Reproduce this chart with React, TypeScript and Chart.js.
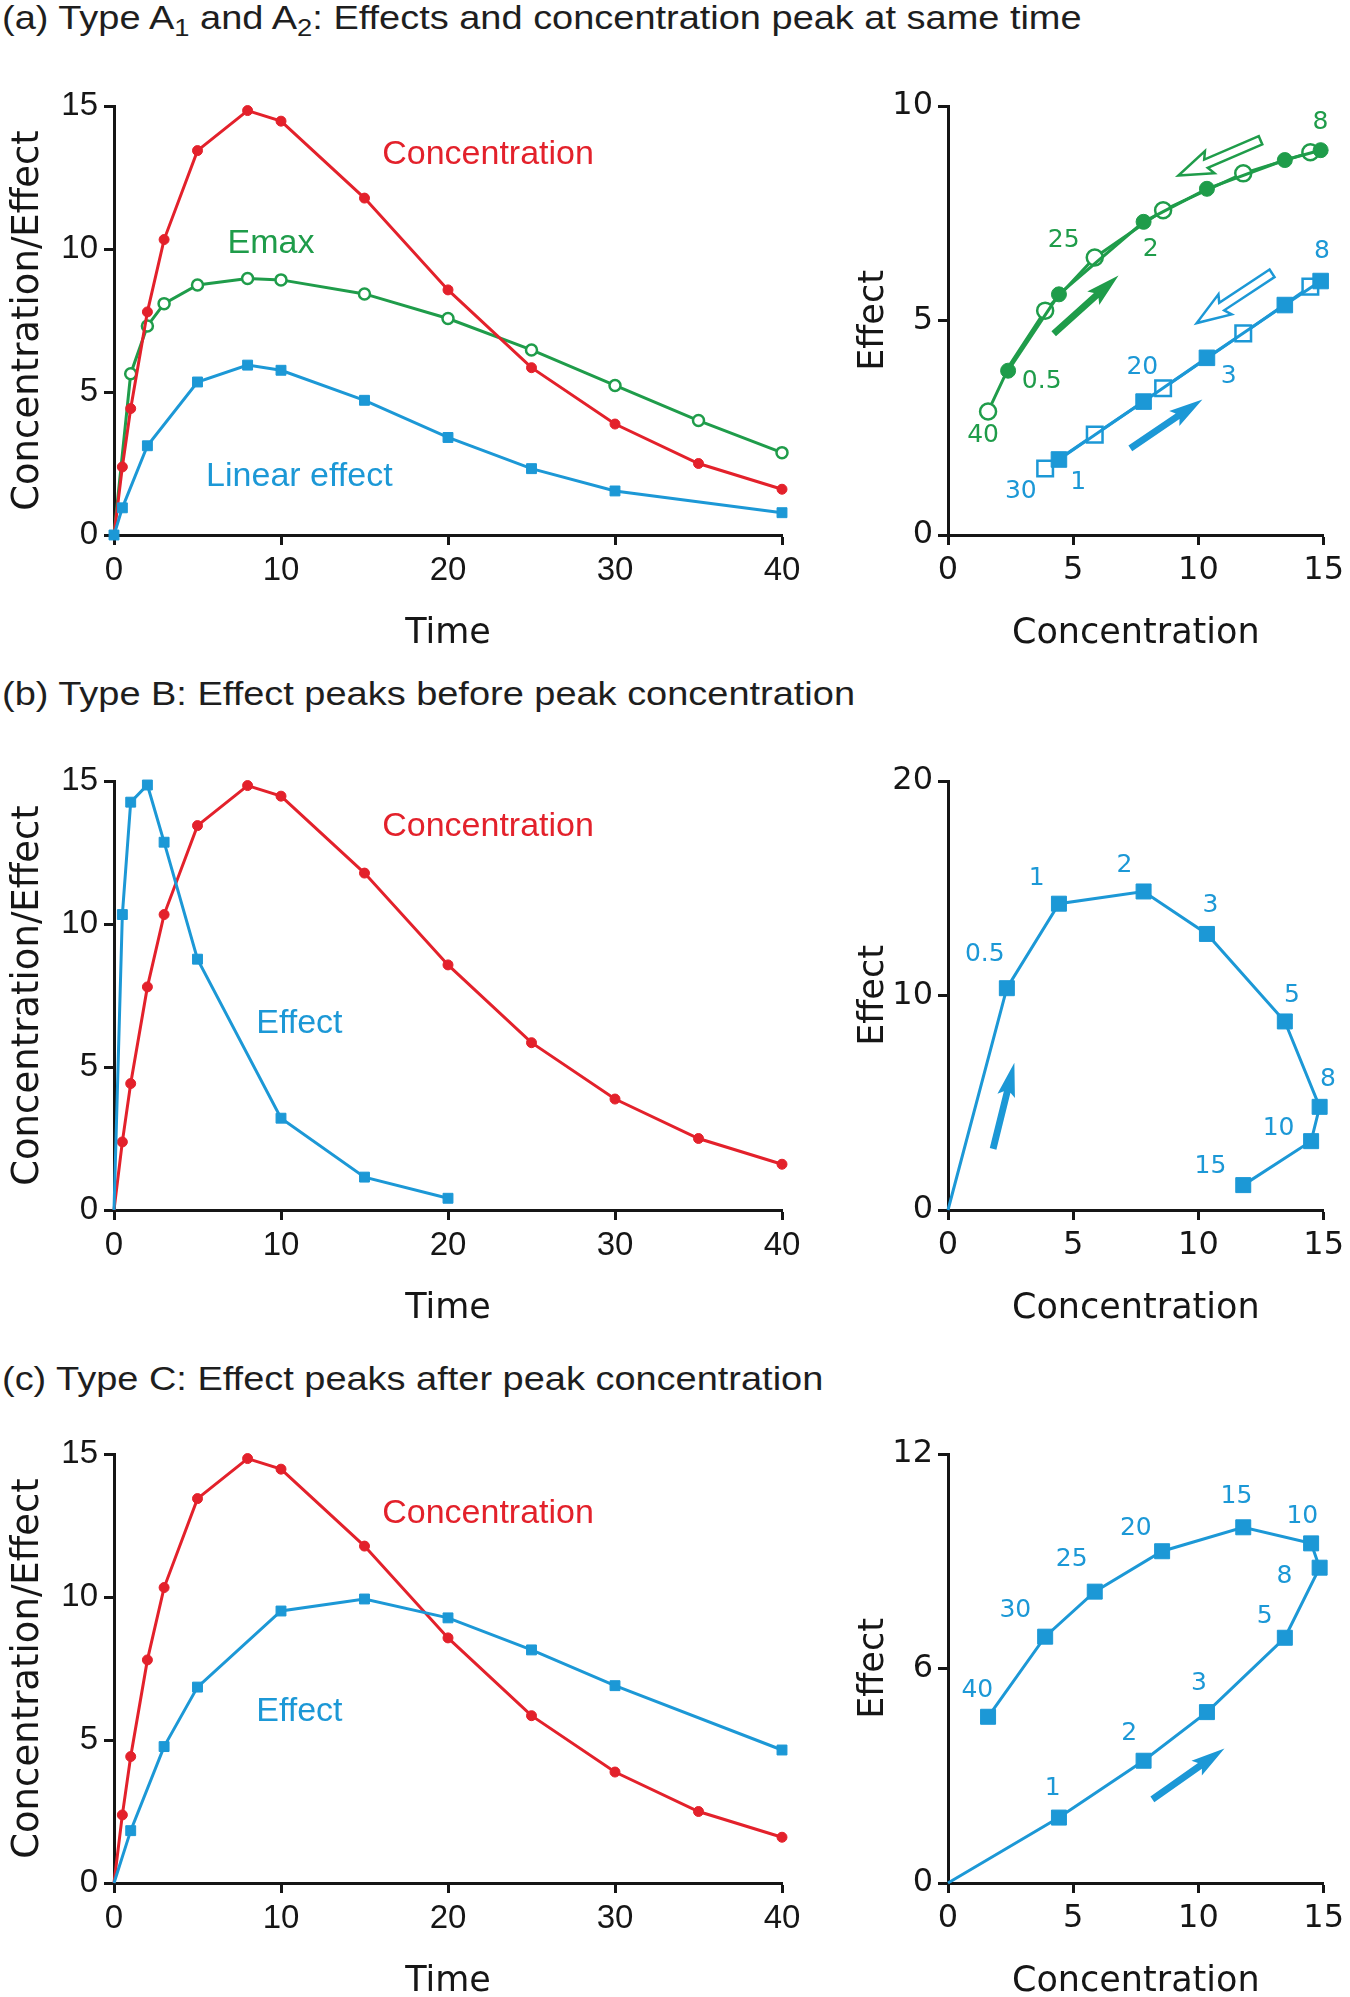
import React, { useEffect, useRef } from 'react';
import { Chart, registerables } from 'chart.js';
Chart.register(...registerables);

const RED = '#e3212b';
const GREEN = '#1f9c4a';
const BLUE = '#1c98d6';
const AXIS = '#161616';

// ---------- Time courses ----------
const timeConc = [0, 0.5, 1, 2, 3, 5, 8, 10, 15, 20, 25, 30, 35, 40];
const concentration = [0, 2.38, 4.42, 7.8, 10.33, 13.44, 14.84, 14.47, 11.78, 8.57, 5.85, 3.88, 2.5, 1.6];

const timeEmaxA = [0, 1, 2, 3, 5, 8, 10, 15, 20, 25, 30, 35, 40];
const emaxEffectA = [0, 5.64, 7.31, 8.09, 8.74, 8.97, 8.92, 8.43, 7.57, 6.47, 5.23, 4.0, 2.88];
const timeLinearA = [0, 0.5, 2, 5, 8, 10, 15, 20, 25, 30, 40];
const linearEffectA = [0, 0.95, 3.12, 5.35, 5.94, 5.76, 4.71, 3.41, 2.32, 1.54, 0.78];

const timeEffectB = [0, 0.5, 1, 2, 3, 5, 10, 15, 20];
const effectB = [0, 10.33, 14.26, 14.86, 12.86, 8.77, 3.21, 1.15, 0.41];

const timeEffectC = [0, 1, 3, 5, 10, 15, 20, 25, 30, 40];
const effectC = [0, 1.83, 4.77, 6.85, 9.51, 9.93, 9.27, 8.15, 6.9, 4.65];

// ---------- Effect vs concentration (hysteresis) ----------
const aGreenRiseConc = [2.4, 4.43, 7.81, 10.34, 13.45, 14.88];
const aGreenRiseEffect = [3.83, 5.61, 7.3, 8.07, 8.74, 8.97];
const aGreenFallConc = [14.88, 14.47, 11.79, 8.59, 5.86, 3.88, 2.5, 1.6];
const aGreenFallEffect = [8.97, 8.92, 8.43, 7.57, 6.47, 5.23, 4.0, 2.88];
const aGreenFallShown = [false, true, true, true, true, true, false, true];
const aBlueRiseConc = [4.43, 7.81, 10.34, 13.45, 14.88];
const aBlueRiseEffect = [1.76, 3.11, 4.13, 5.36, 5.92];
const aBlueFallConc = [14.88, 14.47, 11.79, 8.59, 5.86, 3.88];
const aBlueFallEffect = [5.92, 5.79, 4.7, 3.42, 2.34, 1.55];

const bConc = [0, 2.35, 4.43, 7.81, 10.34, 13.45, 14.84, 14.5, 11.79];
const bEffect = [0, 10.34, 14.28, 14.85, 12.87, 8.79, 4.81, 3.21, 1.16];

const cConc = [0, 4.43, 7.81, 10.34, 13.45, 14.84, 14.5, 11.79, 8.55, 5.86, 3.88, 1.6];
const cEffect = [0, 1.83, 3.42, 4.78, 6.86, 8.82, 9.5, 9.95, 9.28, 8.15, 6.89, 4.65];

// ---------- Time labels on loops ----------
const aGreenLabels = ['8', '2', '25', '0.5', '40'];
const aGreenLabelConc = [14.87, 8.09, 4.62, 3.74, 1.4];
const aGreenLabelEffect = [9.61, 6.66, 6.86, 3.57, 2.32];
const aBlueLabels = ['8', '3', '20', '1', '30'];
const aBlueLabelConc = [14.93, 11.21, 7.76, 5.2, 2.91];
const aBlueLabelEffect = [6.6, 3.7, 3.91, 1.22, 1.01];
const bLabels = ['0.5', '1', '2', '3', '5', '8', '10', '15'];
const bLabelConc = [1.47, 3.54, 7.05, 10.48, 13.73, 15.17, 13.2, 10.48];
const bLabelEffect = [11.9, 15.45, 16.08, 14.2, 10.02, 6.1, 3.8, 2.01];
const cLabels = ['1', '2', '3', '5', '8', '10', '15', '20', '25', '30', '40'];
const cLabelConc = [4.18, 7.24, 10.02, 12.65, 13.44, 14.15, 11.52, 7.5, 4.94, 2.69, 1.17];
const cLabelEffect = [2.65, 4.17, 5.59, 7.45, 8.56, 10.25, 10.82, 9.93, 9.04, 7.61, 5.39];

// ---------- Curve names on time-course charts ----------
const aNames = ['Concentration', 'Emax', 'Linear effect'];
const aNameX = [22.4, 9.4, 11.1];
const aNameY = [13.3, 10.2, 2.05];
const bNames = ['Concentration', 'Effect'];
const bNameX = [22.4, 11.1];
const bNameY = [13.4, 6.5];
const cNames = ['Concentration', 'Effect'];
const cNameX = [22.4, 11.1];
const cNameY = [12.9, 6.0];

// ---------- Direction arrows (tail -> tip, in data units) ----------
const aArrowTail = [[4.22, 4.69], [12.48, 9.2], [7.28, 2.02], [12.94, 6.1]];
const aArrowTip = [[6.81, 6.05], [9.2, 8.38], [10.16, 3.16], [9.93, 4.94]];
const aArrowColor = [GREEN, GREEN, BLUE, BLUE];
const aArrowHollow = [false, true, false, true];
const bArrowTail = [[1.8, 2.85]];
const bArrowTip = [[2.65, 6.86]];
const cArrowTail = [[8.16, 2.34]];
const cArrowTip = [[11.04, 3.76]];

const SANS = '"Liberation Sans", Arial, Helvetica, sans-serif';
const DEJAVU = '"DejaVu Sans", Verdana, sans-serif';

type Txt = { text: string; x: number; y: number; color: string; font: string };
type Arrow = { tail: number[]; tip: number[]; color: string; hollow: boolean };

function drawArrow(ctx: CanvasRenderingContext2D, x0: number, y0: number, x1: number, y1: number, color: string, hollow: boolean) {
  const dx = x1 - x0, dy = y1 - y0;
  const len = Math.hypot(dx, dy);
  const ux = dx / len, uy = dy / len;
  const nx = -uy, ny = ux;
  const headL = 30;
  const headW = hollow ? 12 : 9;
  const shaftW = hollow ? 4.5 : 3.4;
  const bx = x1 - ux * headL, by = y1 - uy * headL;
  const barb = 4;
  const p = [
    [x0 + nx * shaftW, y0 + ny * shaftW],
    [bx + nx * shaftW, by + ny * shaftW],
    [bx - ux * barb + nx * headW, by - uy * barb + ny * headW],
    [x1, y1],
    [bx - ux * barb - nx * headW, by - uy * barb - ny * headW],
    [bx - nx * shaftW, by - ny * shaftW],
    [x0 - nx * shaftW, y0 - ny * shaftW],
  ];
  ctx.beginPath();
  p.forEach(([px, py], i) => (i ? ctx.lineTo(px, py) : ctx.moveTo(px, py)));
  ctx.closePath();
  if (hollow) {
    ctx.fillStyle = '#fff';
    ctx.fill();
    ctx.lineWidth = 2.5;
    ctx.lineJoin = 'miter';
    ctx.strokeStyle = color;
    ctx.stroke();
  } else {
    ctx.fillStyle = color;
    ctx.fill();
  }
}

function makeAnnotPlugin(texts: Txt[], arrows: Arrow[]) {
  return {
    id: 'annot',
    afterDatasetsDraw(chart: any) {
      const { ctx } = chart;
      const xs = chart.scales.x, ys = chart.scales.y;
      ctx.save();
      for (const a of arrows) {
        drawArrow(ctx, xs.getPixelForValue(a.tail[0]), ys.getPixelForValue(a.tail[1]),
          xs.getPixelForValue(a.tip[0]), ys.getPixelForValue(a.tip[1]), a.color, a.hollow);
      }
      for (const t of texts) {
        ctx.font = t.font;
        ctx.fillStyle = t.color;
        ctx.textAlign = 'center';
        ctx.textBaseline = 'middle';
        ctx.fillText(t.text, xs.getPixelForValue(t.x), ys.getPixelForValue(t.y));
      }
      ctx.restore();
    },
  };
}

const pts = (xs: number[], ys: number[]) => xs.map((x, i) => ({ x, y: ys[i] }));

function series(xs: number[], ys: number[], color: string, o: any) {
  const r = o.r;
  const radius = o.shown ? o.shown.map((s: boolean) => (s ? r : 0)) : o.hideFirst ? xs.map((_, i) => (i === 0 ? 0 : r)) : r;
  return {
    data: pts(xs, ys),
    borderColor: color,
    borderWidth: 3,
    pointStyle: o.style || 'circle',
    pointRadius: radius,
    pointBackgroundColor: o.open ? '#fff' : color,
    pointBorderColor: color,
    pointBorderWidth: o.open ? 2.5 : 1,
    tension: 0,
    clip: false,
    fill: false,
  };
}

function labelTexts(labels: string[], xs: number[], ys: number[], color: string, font: string): Txt[] {
  return labels.map((t, i) => ({ text: t, x: xs[i], y: ys[i], color, font }));
}

function arrowList(tails: number[][], tips: number[][], colors: string[], hollow: boolean[]): Arrow[] {
  return tails.map((t, i) => ({ tail: t, tip: tips[i], color: colors[i], hollow: hollow[i] }));
}

interface Spec {
  side: 'left' | 'right';
  datasets: any[];
  xMax: number; xStep: number; yMax: number; yStep: number;
  xTitle: string; yTitle: string;
  texts: Txt[]; arrows: Arrow[];
}

const PLOT_TOP_PAD = 40;
const X_AXIS_H = 130;
const PLOT_H = 429;

function buildConfig(spec: Spec): any {
  const isLeft = spec.side === 'left';
  const tickFont = isLeft ? { family: SANS, size: 33 } : { family: DEJAVU, size: 32 };
  const yAxisW = isLeft ? 114 : 118;
  const grid = { drawOnChartArea: false, drawTicks: true, tickLength: 10, tickWidth: 3, tickColor: AXIS, color: AXIS };
  const border = { display: true, color: AXIS, width: 3 };
  return {
    type: 'line',
    data: { datasets: spec.datasets },
    options: {
      responsive: false,
      animation: false,
      events: [],
      layout: { autoPadding: false, padding: { top: PLOT_TOP_PAD, right: isLeft ? 38 : 20, bottom: 0, left: 0 } },
      plugins: { legend: { display: false }, tooltip: { enabled: false }, title: { display: false } },
      scales: {
        x: {
          type: 'linear', min: 0, max: spec.xMax,
          ticks: { stepSize: spec.xStep, color: AXIS, font: tickFont, padding: 6, maxRotation: 0, autoSkip: false },
          grid, border,
          title: { display: true, text: spec.xTitle, color: AXIS, font: { family: DEJAVU, size: 35 }, padding: { top: 0, bottom: 10 } },
          afterFit: (s: any) => { s.height = X_AXIS_H; },
        },
        y: {
          type: 'linear', min: 0, max: spec.yMax,
          ticks: { stepSize: spec.yStep, color: AXIS, font: tickFont, padding: isLeft ? 6 : 5 },
          grid, border,
          title: { display: true, text: spec.yTitle, color: AXIS, font: { family: DEJAVU, size: isLeft ? 37 : 35 }, padding: { top: isLeft ? 6 : 23, bottom: 0 } },
          afterFit: (s: any) => { s.width = yAxisW; },
        },
      },
    },
    plugins: [makeAnnotPlugin(spec.texts, spec.arrows)],
  };
}

function ChartBox({ left, top, width, spec }: { left: number; top: number; width: number; spec: Spec }) {
  const ref = useRef<HTMLCanvasElement>(null);
  const height = PLOT_TOP_PAD + PLOT_H + X_AXIS_H;
  useEffect(() => {
    const chart = new Chart(ref.current as HTMLCanvasElement, buildConfig(spec));
    return () => chart.destroy();
  }, []);
  return <canvas ref={ref} width={width} height={height} style={{ position: 'absolute', left, top, width, height }} />;
}

const nameFont = `34px ${SANS}`;
const numFont = `25px ${DEJAVU}`;

const leftA: Spec = {
  side: 'left', xMax: 40, xStep: 10, yMax: 15, yStep: 5, xTitle: 'Time', yTitle: 'Concentration/Effect',
  datasets: [
    series(timeLinearA, linearEffectA, BLUE, { r: 7, style: 'rect' }),
    series(timeConc, concentration, RED, { r: 5, hideFirst: true }),
    series(timeEmaxA, emaxEffectA, GREEN, { r: 5.5, open: true, hideFirst: true }),
  ],
  texts: aNames.map((n, i) => ({ text: n, x: aNameX[i], y: aNameY[i], color: [RED, GREEN, BLUE][i], font: nameFont })),
  arrows: [],
};

const rightA: Spec = {
  side: 'right', xMax: 15, xStep: 5, yMax: 10, yStep: 5, xTitle: 'Concentration', yTitle: 'Effect',
  datasets: [
    series(aGreenRiseConc, aGreenRiseEffect, GREEN, { r: 7.5 }),
    series(aGreenFallConc, aGreenFallEffect, GREEN, { r: 8, open: true, shown: aGreenFallShown }),
    series(aBlueRiseConc, aBlueRiseEffect, BLUE, { r: 11, style: 'rect' }),
    series(aBlueFallConc, aBlueFallEffect, BLUE, { r: 11, style: 'rect', open: true, hideFirst: true }),
  ],
  texts: [
    ...labelTexts(aGreenLabels, aGreenLabelConc, aGreenLabelEffect, GREEN, numFont),
    ...labelTexts(aBlueLabels, aBlueLabelConc, aBlueLabelEffect, BLUE, numFont),
  ],
  arrows: arrowList(aArrowTail, aArrowTip, aArrowColor, aArrowHollow),
};

const leftB: Spec = {
  side: 'left', xMax: 40, xStep: 10, yMax: 15, yStep: 5, xTitle: 'Time', yTitle: 'Concentration/Effect',
  datasets: [
    series(timeEffectB, effectB, BLUE, { r: 7, style: 'rect', hideFirst: true }),
    series(timeConc, concentration, RED, { r: 5, hideFirst: true }),
  ],
  texts: bNames.map((n, i) => ({ text: n, x: bNameX[i], y: bNameY[i], color: [RED, BLUE][i], font: nameFont })),
  arrows: [],
};

const rightB: Spec = {
  side: 'right', xMax: 15, xStep: 5, yMax: 20, yStep: 10, xTitle: 'Concentration', yTitle: 'Effect',
  datasets: [series(bConc, bEffect, BLUE, { r: 10.6, style: 'rect', hideFirst: true })],
  texts: labelTexts(bLabels, bLabelConc, bLabelEffect, BLUE, numFont),
  arrows: arrowList(bArrowTail, bArrowTip, [BLUE], [false]),
};

const leftC: Spec = {
  side: 'left', xMax: 40, xStep: 10, yMax: 15, yStep: 5, xTitle: 'Time', yTitle: 'Concentration/Effect',
  datasets: [
    series(timeEffectC, effectC, BLUE, { r: 7, style: 'rect', hideFirst: true }),
    series(timeConc, concentration, RED, { r: 5, hideFirst: true }),
  ],
  texts: cNames.map((n, i) => ({ text: n, x: cNameX[i], y: cNameY[i], color: [RED, BLUE][i], font: nameFont })),
  arrows: [],
};

const rightC: Spec = {
  side: 'right', xMax: 15, xStep: 5, yMax: 12, yStep: 6, xTitle: 'Concentration', yTitle: 'Effect',
  datasets: [series(cConc, cEffect, BLUE, { r: 10.6, style: 'rect', hideFirst: true })],
  texts: labelTexts(cLabels, cLabelConc, cLabelEffect, BLUE, numFont),
  arrows: arrowList(cArrowTail, cArrowTip, [BLUE], [false]),
};

const PLOT_TOPS = [106, 781, 1454];
const TITLE_TOPS = [0, 676, 1361];

const titleStyle: React.CSSProperties = {
  position: 'absolute', left: 2, fontFamily: SANS, fontSize: 33, lineHeight: '36px', color: '#1e1e1e',
  whiteSpace: 'nowrap', transform: 'scaleX(1.15)', transformOrigin: '0 0',
};
const subStyle: React.CSSProperties = { fontSize: '0.72em', verticalAlign: '-0.28em', lineHeight: 0 };

export default function App() {
  const panels = [[leftA, rightA], [leftB, rightB], [leftC, rightC]];
  return (
    <div style={{ position: 'absolute', left: 0, top: 0, width: 1350, height: 1997, background: '#fff', overflow: 'hidden' }}>
      <div style={{ ...titleStyle, top: TITLE_TOPS[0] }}>
        (a) Type A<sub style={subStyle}>1</sub> and A<sub style={subStyle}>2</sub>: Effects and concentration peak at same time
      </div>
      <div style={{ ...titleStyle, top: TITLE_TOPS[1] }}>(b) Type B: Effect peaks before peak concentration</div>
      <div style={{ ...titleStyle, top: TITLE_TOPS[2] }}>(c) Type C: Effect peaks after peak concentration</div>
      {panels.map(([l, r], i) => (
        <React.Fragment key={i}>
          <ChartBox left={0} top={PLOT_TOPS[i] - PLOT_TOP_PAD} width={820} spec={l} />
          <ChartBox left={830} top={PLOT_TOPS[i] - PLOT_TOP_PAD} width={520} spec={r} />
        </React.Fragment>
      ))}
    </div>
  );
}
